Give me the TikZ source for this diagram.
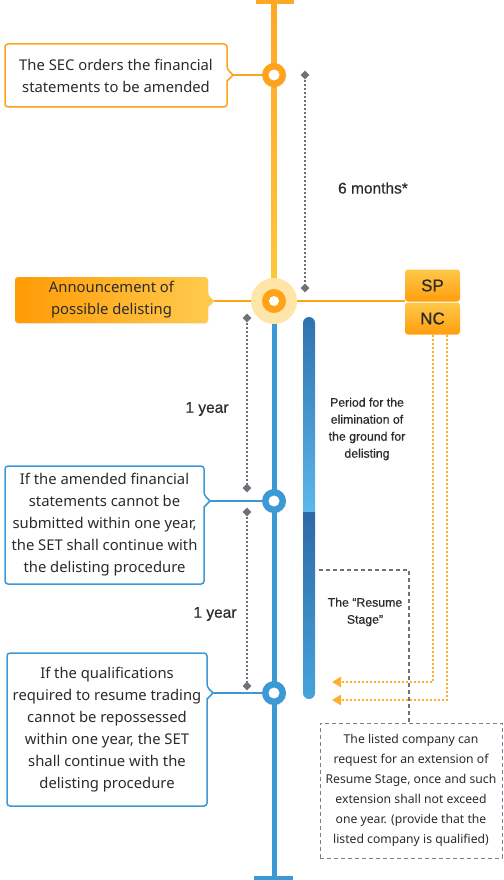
\documentclass[tikz,border=0pt]{standalone}
\usepackage{fontspec}
\setmainfont{Noto Sans}
\newfontfamily\labfont{Liberation Sans}[FakeBold=0.6]
\usetikzlibrary{shapes.geometric,arrows.meta,shadows}
\definecolor{orA}{HTML}{FFA31A}
\definecolor{orTop}{HTML}{FFA726}
\definecolor{orBot}{HTML}{FFC73A}
\definecolor{halo}{HTML}{FFE5A8}
\definecolor{blA}{HTML}{3D98D6}
\definecolor{grA}{HTML}{6D7179}
\definecolor{txt}{HTML}{2B2B2B}
\definecolor{barA}{HTML}{2F72B0}
\definecolor{barB}{HTML}{5DB7E9}
\definecolor{barC}{HTML}{2D6AA6}
\definecolor{barD}{HTML}{47A3DB}
\definecolor{spTop}{HTML}{FFC84A}
\definecolor{spBot}{HTML}{FF9E0D}
\definecolor{anL}{HTML}{FF9B05}
\definecolor{anR}{HTML}{FFCB4F}
\definecolor{odot}{HTML}{FFAE2B}
\newcommand\calloutbox[6]{%
  \path[#1] ({(#2+#4)/2},#3) [rounded corners=3pt] -- (#4,#3) -- (#4,#6-6) [sharp corners] -- (#4+6,#6) -- (#4,#6+6) [rounded corners=3pt] -- (#4,#5) -- (#2,#5) -- (#2,#3) -- cycle;}
\tikzset{
  boxtext/.style={align=center, text=txt, font=\fontsize{14.8}{22}\selectfont, inner sep=0pt},
  lbl/.style={text=txt, font=\labfont\fontsize{15.5}{17}\selectfont, inner sep=0pt},
  smalllbl/.style={text=txt, align=center, font=\labfont\fontsize{12.3}{17}\selectfont, inner sep=0pt},
  dia/.style={diamond, fill=grA, minimum size=9pt, inner sep=0pt},
  gdot/.style={draw=grA, line width=1.6pt, dash pattern=on 2pt off 2pt},
  gdash/.style={draw=grA, line width=1.5pt, dash pattern=on 4pt off 3pt},
  oline/.style={draw=orA, line width=2pt},
  bline/.style={draw=blA, line width=2pt},
  odotted/.style={draw=odot, line width=2pt, dash pattern=on 2pt off 2pt, -{Triangle[length=9pt,width=10pt]}},
  ring/.style={circle, minimum size=24pt, inner sep=0pt, drop shadow={opacity=0.15, shadow xshift=0.5pt, shadow yshift=-1pt}},
  spbox/.style={rounded corners=3pt, top color=spTop, bottom color=spBot, text=txt, font=\labfont\fontsize{17}{17}\selectfont, minimum width=55pt, minimum height=32pt, inner sep=0pt},
  bshadow/.style={drop shadow={opacity=0.12, shadow xshift=0.5pt, shadow yshift=-1pt}}
}
\begin{document}
\begin{tikzpicture}[x=1pt, y=-1pt]
\useasboundingbox (0,0) rectangle (503,880);
% main timeline
\shade[top color=orTop, bottom color=orBot] (271.5,2) rectangle (276.5,285);
\draw[orTop, line width=4pt] (256,2) -- (294,2);
\fill[blA] (271.5,315) rectangle (276.5,878);
\draw[blA, line width=4pt] (254,878) -- (293,878);

% callout boxes
\calloutbox{draw=orA, line width=1.5pt, fill=white, bshadow}{5}{44}{227}{107}{75}
\node[boxtext] (b1) at (116,75.5) {The SEC orders the financial\\statements to be amended};
\calloutbox{left color=anL, right color=anR, bshadow}{15}{277}{208}{323}{301}
\node[boxtext] (b2) at (111.5,300) {Announcement of\\possible delisting};
\calloutbox{draw=blA, line width=1.5pt, fill=white, bshadow}{5}{466}{204}{584}{501}
\node[boxtext] (b3) at (104.5,525) {If the amended financial\\statements cannot be\\submitted within one year,\\the SET shall continue with\\the delisting procedure};
\calloutbox{draw=blA, line width=1.5pt, fill=white, bshadow}{7}{653}{207}{806}{693}
\node[boxtext] (b4) at (107,729.5) {If the qualifications\\required to resume trading\\cannot be repossessed\\within one year, the SET\\shall continue with the\\delisting procedure};
\coordinate (t1) at (233,75);
\coordinate (t2) at (214,301);
\coordinate (t3) at (210,501);
\coordinate (t4) at (213,693);

% circles
\node[circle, fill=halo, minimum size=46pt, inner sep=0pt] (c2) at (274,301) {};
\node[circle, fill=orA, minimum size=24pt, inner sep=0pt] (c2r) at (274,301) {};
\fill[white] (c2r) circle[radius=5pt];
\node[ring, fill=orA] (c1) at (274,75) {};
\fill[white] (c1) circle[radius=5.5pt];
\node[ring, fill=blA] (c3) at (274,501) {};
\fill[white] (c3) circle[radius=5.5pt];
\node[ring, fill=blA] (c4) at (274,693) {};
\fill[white] (c4) circle[radius=5.5pt];

\draw[oline] (t1) -- (c1);
\draw[oline] (t2) -- (c2);
\draw[bline] (t3) -- (c3);
\draw[bline] (t4) -- (c4);

% SP / NC
\node[spbox] (SP) at (432.5,285.5) {SP};
\node[spbox] (NC) at (432.5,318.5) {NC};
\draw[oline] (c2) -- (c2 -| SP.west);

% gray dotted ranges
\node[dia] (d1) at (305,75) {};
\node[dia] (d2) at (305,288) {};
\draw[gdot] (d1) -- (d2);
\node[dia] (d3) at (247,318) {};
\node[dia] (d4) at (247,488) {};
\draw[gdot] (d3) -- (d4);
\node[dia] (d5) at (247,512) {};
\node[dia] (d6) at (247,686) {};
\draw[gdot] (d5) -- (d6);

\node[lbl] (m6) at (373,188) {6 months*};
\node[lbl] (y1) at (207,409) {1 year};
\node[lbl] (y2) at (215,614) {1 year};

% blue bar
\begin{scope}
\clip[rounded corners=6pt] (303,317) rectangle (315,699);
\shade[top color=barA, bottom color=barB] (303,317) rectangle (315,512);
\shade[top color=barC, bottom color=barD] (303,512) rectangle (315,699);
\end{scope}
\node[smalllbl] (per) at (367,429) {Period for the\\elimination of\\the ground for\\delisting};
\node[smalllbl] (rs) at (365,612) {The “Resume\\Stage”};

% extension box
\node[draw=grA!90, line width=0.9pt, dash pattern=on 4pt off 3pt, minimum width=182pt, minimum height=135pt, align=center, text=txt, font=\fontsize{12.2}{20}\selectfont, inner sep=0pt] (ext) at (411,790.5) {The listed company can\\request for an extension of\\Resume Stage, once and such\\extension shall not exceed\\one year. (provide that the\\listed company is qualified)};
\coordinate (r1) at (319,570);
\coordinate (r2) at (409,570);
\draw[gdash] (r1) -- (r2) -- (r2 |- ext.north);

% orange dotted arrows
\coordinate (a1) at (332,682);
\coordinate (a2) at (332,700);
\draw[odotted] (NC.south) |- (a1);
\draw[odotted] ([xshift=14pt]NC.south) |- (a2);
\end{tikzpicture}
\end{document}
